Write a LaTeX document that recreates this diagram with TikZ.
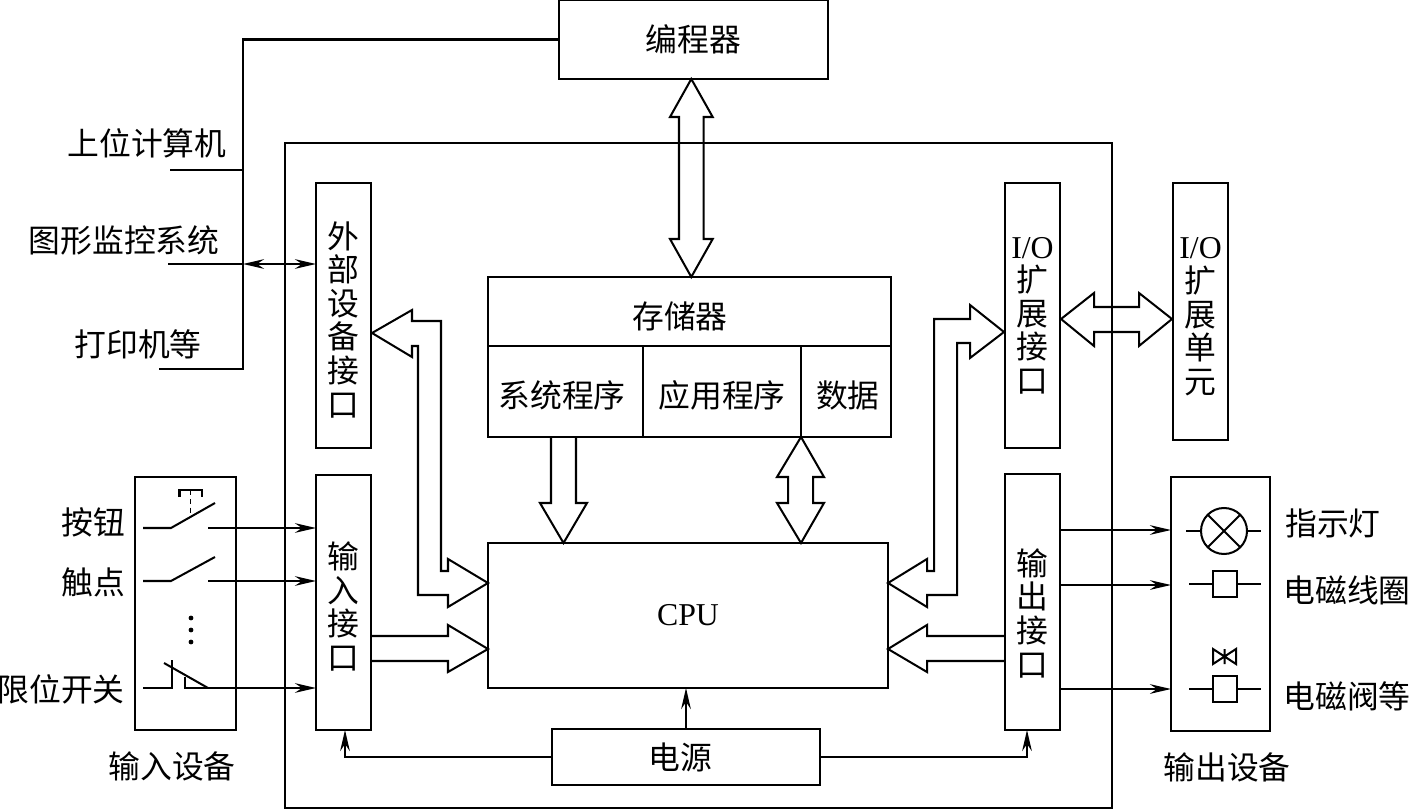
\documentclass[tikz,border=0pt]{standalone}
\usepackage{fontspec}
\setmainfont{Liberation Serif}
\newfontfamily\cjk{Noto Sans CJK SC}
\usetikzlibrary{arrows.meta,positioning}
\newcommand{\vdrop}[1]{\rule{0pt}{#1}}
\begin{document}
\begin{tikzpicture}[
  x=0.02cm,y=-0.02cm,
  line width=1.15pt,
  txt/.style={inner sep=0pt,outer sep=0pt,align=center,font=\cjk\fontsize{18.1}{19.1}\selectfont},
  unitbox/.style={txt,rectangle,draw,black},
  portbox/.style={unitbox,minimum width=1.1cm},
  bus/.style={draw,line join=miter,miter limit=10},
  wire/.style={draw,line join=miter},
  arr/.style={wire,-{Stealth[length=12pt,width=5.5pt,inset=4pt]}},
  barr/.style={wire,{Stealth[length=12pt,width=5.5pt,inset=4pt]}-{Stealth[length=12pt,width=5.5pt,inset=4pt]}}]
\useasboundingbox (0,0) rectangle (1409,810);
\node[unitbox,minimum width=16.54cm,minimum height=13.3cm] (plc) at (698.5,475.5) {};
\node[unitbox,minimum width=5.38cm,minimum height=1.58cm] (prog) at (693.5,39.5) {编程器};
\node[portbox,minimum height=5.3cm] (extif) at (343.5,315.5) {\vdrop{20pt}外\\部\\设\\备\\接\\口};
\node[portbox,minimum height=5.1cm] (inif) at (343.5,602.5) {\vdrop{20pt}输\\入\\接\\口};
\node[portbox,minimum height=5.3cm] (ioext) at (1032.5,315.5) {\rmfamily I/O\\扩\\展\\接\\口};
\node[portbox,minimum height=5.12cm] (outif) at (1032.5,602) {\vdrop{28pt}输\\出\\接\\口};
\node[portbox,minimum height=5.14cm] (iounit) at (1200.5,311.5) {\vdrop{18pt}\rmfamily I/O\\扩\\展\\单\\元};
\node[unitbox,minimum width=8.06cm,minimum height=1.38cm] (mem) at (689.5,311.5) {\vdrop{21pt}存储器\hspace*{0.38cm}};
\node[unitbox,minimum width=3.1cm,minimum height=1.82cm,below=0pt of mem.south west,anchor=north west] (sysp) {\vdrop{20pt}系统程序\hspace*{0.14cm}};
\node[unitbox,minimum width=3.16cm,minimum height=1.82cm,right=0pt of sysp.north east,anchor=north west] (appp) {\vdrop{20pt}应用程序};
\node[unitbox,minimum width=1.8cm,minimum height=1.82cm,right=0pt of appp.north east,anchor=north west] (datap) {\vdrop{20pt}\hspace*{0.08cm}数据};
\node[unitbox,minimum width=8cm,minimum height=2.9cm] (cpu) at (688,615.5) {\rmfamily CPU};
\node[unitbox,minimum width=5.36cm,minimum height=1.12cm] (power) at (686,757) {电源\hspace*{0.24cm}};
\node[unitbox,minimum width=2.02cm,minimum height=5.06cm] (indev) at (185.5,603.5) {};
\node[unitbox,minimum width=1.98cm,minimum height=5.08cm] (outdev) at (1220.5,604) {};
% outside labels
\node[txt] (lbpc) at (147,143) {上位计算机};
\node[txt] (lbhmi) at (124,240) {图形监控系统};
\node[txt] (lbprn) at (138,344) {打印机等};
\node[txt] (lbbtn) at (93,522) {按钮};
\node[txt] (lbcon) at (93,582) {触点};
\node[txt] (lblim) at (61,689) {限位开关};
\node[txt] (lbin) at (172,766) {输入设备};
\node[txt] (lbout) at (1227,767) {输出设备};
\node[txt] (lblamp) at (1333,523) {指示灯};
\node[txt] (lbcoil) at (1347,590) {电磁线圈};
\node[txt] (lbval) at (1347,696) {电磁阀等};
% left wiring
\coordinate (pcend) at (170,170);
\coordinate (prnend) at (159,369);
\coordinate (hmiend) at (168,264);
\coordinate (joint) at (243,264);
\draw[wire] (prog.west) -| (prnend -| joint) -- (prnend);
\draw[wire] (pcend) -- (pcend -| joint);
\draw[wire] (hmiend) -- (joint);
\draw[barr] (joint) -- (joint -| extif.west);
% power
\draw[arr] (power.west) -| (inif.south -| 345,0);
\draw[arr] (power.east) -| (outif.south -| 1027,0);
\draw[arr] (power.north -| 686,0) -- (cpu.south -| 686,0);
% thin arrows
\foreach \n/\y in {a/528,b/581,c/688} {
  \coordinate (sw\n) at (208,\y);
  \draw[arr] (sw\n) -- (inif.west |- sw\n);
}
\foreach \y in {530,585,689} \draw[arr] (outif.east |- 0,\y) -- (outdev.west |- 0,\y);
% fat arrows
\draw[bus] (prog.south -| 691.3,0) -- (712.7,117) -- (703.7,117) -- (703.7,239) -- (712.7,239) -- (691.3,277) -- (670,239) -- (679,239) -- (679,117) -- (670,117) -- cycle;
\draw[bus] (sysp.south -| 551,0) -- (551,503) -- (540,503) -- (563.5,543) -- (587,503) -- (576,503) -- (576,437);
\draw[bus] (801,437) -- (824,477) -- (813,477) -- (813,503) -- (824,503) -- (801,543) -- (777,503) -- (788,503) -- (788,477) -- (777,477) -- cycle;
\draw[bus] (372,333) -- (412,310) -- (412,321) -- (441,321) -- (441,571) -- (448,571) -- (448,559) -- (488,583) -- (448,607) -- (448,595) -- (418,595) -- (418,346) -- (412,346) -- (412,357) -- cycle;
\draw[bus] (inif.east |- 0,636) -- (448,636) -- (448,625) -- (488,649) -- (448,672) -- (448,661) -- (inif.east |- 0,661);
\draw[bus] (1004,332) -- (970,305) -- (970,319) -- (934,319) -- (934,571) -- (927,571) -- (927,559) -- (888,583) -- (927,607) -- (927,595) -- (957,595) -- (957,343) -- (970,343) -- (970,358) -- cycle;
\draw[bus] (outif.west |- 0,636) -- (927,636) -- (927,625) -- (888,649) -- (927,672) -- (927,661) -- (outif.west |- 0,661);
\draw[bus] (1061,319) -- (1094,293) -- (1094,307) -- (1139,307) -- (1139,293) -- (1172,319) -- (1139,346) -- (1139,332) -- (1094,332) -- (1094,346) -- cycle;
% input symbols
\draw[wire] (143,528) -- (171,528) -- (215,503);
\draw[wire] (179.5,497) -- (179.5,490) -- (202,490) -- (202,497);
\draw[wire,densely dashed,line width=0.9pt] (190.7,490) -- (190.7,517);
\draw[wire] (143,581) -- (171,581) -- (215,557);
\foreach \y in {618,630,642} \fill (191,\y) circle (2.4);
\draw[wire] (143,688) -- (172,688) -- (172,660);
\draw[wire] (164,663) -- (208,688);
\draw[wire] (185,677) -- (185,688) -- (208,688);
% output symbols
\draw[wire] (1224,531) circle (23);
\draw[wire] (1207.7,514.7) -- (1240.3,547.3) (1207.7,547.3) -- (1240.3,514.7);
\draw[wire] (1186,531) -- (1201,531) (1247,531) -- (1261,531);
\foreach \y in {584,689} {
  \draw[wire] (1213,\y-13) rectangle (1237,\y+13);
  \draw[wire] (1189,\y) -- (1213,\y) (1237,\y) -- (1261,\y);
}
\draw[wire] (1213,649) -- (1236,664) -- (1236,649) -- (1213,664) -- cycle (1224.5,649) -- (1224.5,664);
\end{tikzpicture}
\end{document}
